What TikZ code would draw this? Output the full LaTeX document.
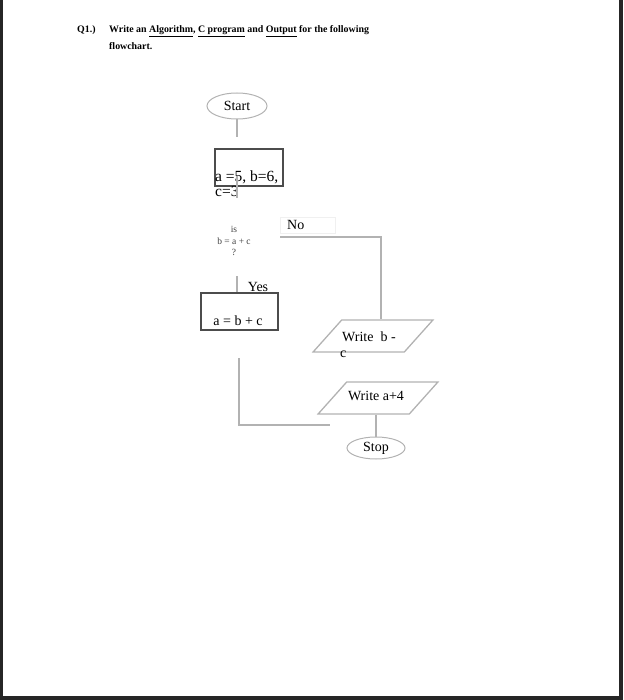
\documentclass[tikz,border=0pt]{standalone}
\usepackage{fontspec}
\setmainfont{Liberation Serif}
\usetikzlibrary{shapes.geometric, positioning}
\tikzset{
    terminal/.style={ellipse, draw=gray!60, line width=1pt, inner sep=0pt, font=\fontsize{14}{16}\selectfont},
    procbox/.style={rectangle, draw=black!70, line width=1.3pt, inner sep=0pt},
    iobox/.style={trapezium, trapezium left angle=59, trapezium right angle=121, trapezium stretches=true, draw=gray!60, line width=1.3pt, minimum height=32pt, minimum width=120pt, inner sep=1pt},
    flowtext/.style={inner sep=0pt, font=\fontsize{14}{16}\selectfont},
    bigtext/.style={inner sep=0pt, font=\fontsize{15.5}{17}\selectfont},
    smalltext/.style={inner sep=0pt, align=center, font=\fontsize{9.5}{11.5}\selectfont, text=black!75},
    titletext/.style={inner sep=0pt, anchor=base west, font=\fontsize{9.9}{11}\selectfont\bfseries},
    link/.style={draw=gray!60, line width=1.3pt}
}

\begin{document}
\begin{tikzpicture}[x=1pt, y=-1pt]
        \useasboundingbox (0,0) rectangle (623,700);
        \fill[black!85] (0,0) rectangle (3,700);
        \fill[black!85] (619,0) rectangle (623,700);
        \fill[black!85] (0,696) rectangle (623,700);

        % question
        \node (qnum) [titletext] at (77,33) {Q1.)};
        \node (qline) [titletext] at (109,33) {Write an \underline{Algorithm}, \underline{C program} and \underline{Output} for the following};
        \node (qline2) [titletext] at (109,50) {flowchart.};

        % flowchart
        \node (start) [terminal, minimum width=60pt, minimum height=26pt] at (237,106) {Start};
        \node (init) [procbox, minimum width=68pt, minimum height=37pt] at (249,167.5) {};
        \node (initA) [bigtext, anchor=base west] at (215,182) {a =5, b=6,};
        \node (initB) [bigtext, anchor=base west] at (215,197) {c=3};
        \node (test) [smalltext] at (234,241) {is\\b = a + c\\?};
        \node (noLbl) [rectangle, draw=gray!12, line width=0.8pt, minimum width=55pt, minimum height=16pt, inner sep=0pt] at (307.5,225) {};
        \node (noText) [flowtext, anchor=west] at (287,225) {No};
        \node (yesText) [flowtext] at (258,287) {Yes};
        \node (calc) [procbox, minimum width=77pt, minimum height=37pt] at (239.5,311.5) {};
        \node (calcText) [flowtext] at (238,321) {a = b + c};
        \node (writeBC) [iobox] at (373,336) {\phantom{W}};
        \node (writeBCa) [flowtext, anchor=base west] at (342,341) {Write~ b -};
        \node (writeBCb) [flowtext, anchor=base west] at (340,357) {c};
        \node (writeA) [iobox] at (378,398) {\phantom{W}};
        \node (writeAText) [flowtext] at (376,396) {Write a+4};
        \node (stop) [terminal, minimum width=58pt, minimum height=22pt] at (376,448) {Stop};

        \coordinate (startEnd) at (237,137);
        \coordinate (initIn) at (237,176);
        \coordinate (initOut) at (237,198);
        \coordinate (noStart) at (280,237);
        \coordinate (noTurn) at (381,237);
        \coordinate (yesStart) at (237,276);
        \coordinate (calcOut) at (239,358);
        \coordinate (joinEnd) at (330,425);

        \draw [link] (start) -- (startEnd);
        \draw [link] (initIn) -- (initOut);
        \draw [link] (noStart) -- (noTurn) -- (noTurn |- writeBC.north);
        \draw [link] (yesStart) -- (yesStart |- calc.north);
        \draw [link] (calcOut) |- (joinEnd);
        \draw [link] (stop.north |- writeA.south) -- (stop.north);
    \end{tikzpicture}
\end{document}
